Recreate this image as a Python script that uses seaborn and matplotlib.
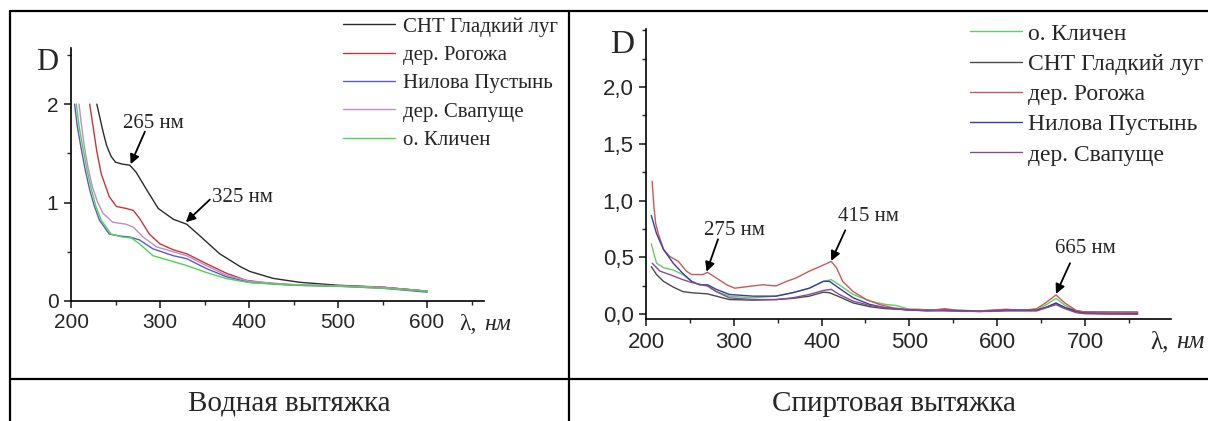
import numpy as np
import pandas as pd
import matplotlib
matplotlib.use('Agg')
import matplotlib.pyplot as plt
import seaborn as sns
from matplotlib.lines import Line2D
from matplotlib.ticker import MultipleLocator, FuncFormatter

# ---- Водная вытяжка (water extract) ----
w_names = ['СНТ Гладкий луг', 'дер. Рогожа', 'Нилова Пустынь', 'дер. Свапуще', 'о. Кличен']
w_colors = ['#2b2b2b', '#c0393b', '#5a5ad0', '#c08cc8', '#4fd24f']

w_black_x = [229, 232, 236, 240, 245, 250, 258, 266, 273, 285, 298, 315, 330, 345, 367, 390, 401, 427, 457, 500, 550, 600]
w_black_y = [2.00, 1.88, 1.72, 1.58, 1.47, 1.41, 1.39, 1.38, 1.31, 1.13, 0.94, 0.83, 0.78, 0.66, 0.48, 0.35, 0.30, 0.23, 0.19, 0.16, 0.14, 0.10]
w_red_x = [221, 224, 229, 234, 243, 251, 262, 270, 277, 288, 300, 315, 330, 352, 375, 397, 427, 465, 500, 550, 600]
w_red_y = [2.00, 1.82, 1.52, 1.29, 1.06, 0.96, 0.94, 0.92, 0.84, 0.68, 0.58, 0.52, 0.48, 0.38, 0.28, 0.21, 0.176, 0.16, 0.155, 0.14, 0.10]
w_blue_x = [204, 207, 211, 216, 221, 226, 232, 243, 255, 266, 277, 292, 315, 330, 352, 375, 401, 450, 500, 550, 600]
w_blue_y = [2.00, 1.78, 1.57, 1.33, 1.13, 0.97, 0.82, 0.68, 0.66, 0.65, 0.62, 0.53, 0.46, 0.43, 0.33, 0.245, 0.19, 0.16, 0.15, 0.13, 0.09]
w_purple_x = [209, 212, 215, 219, 224, 230, 236, 247, 262, 270, 281, 296, 315, 330, 352, 375, 401, 450, 500, 550, 600]
w_purple_y = [2.00, 1.77, 1.57, 1.36, 1.16, 1.00, 0.89, 0.80, 0.78, 0.75, 0.65, 0.55, 0.50, 0.46, 0.36, 0.26, 0.20, 0.165, 0.155, 0.14, 0.10]
w_green_x = [206, 209, 213, 218, 223, 228, 234, 245, 258, 268, 277, 292, 315, 330, 352, 375, 401, 450, 500, 550, 600]
w_green_y = [2.00, 1.78, 1.57, 1.33, 1.13, 0.96, 0.82, 0.68, 0.65, 0.64, 0.58, 0.46, 0.40, 0.36, 0.29, 0.227, 0.186, 0.16, 0.15, 0.13, 0.10]

# ---- Спиртовая вытяжка (alcohol extract) ----
s_names = ['о. Кличен', 'СНТ Гладкий луг', 'дер. Рогожа', 'Нилова Пустынь', 'дер. Свапуще']
s_colors = ['#66cc66', '#4a4a4a', '#c55a5a', '#3c3c9c', '#8a4a9a']

s_green_x = [206, 212, 220, 231, 242, 252, 261, 270, 280, 295, 322, 348, 367, 386, 402, 411, 420, 436, 455, 473, 485, 500, 520, 540, 580, 610, 645, 655, 667, 677, 690, 700, 730, 760]
s_green_y = [0.62, 0.45, 0.41, 0.39, 0.35, 0.29, 0.26, 0.25, 0.20, 0.16, 0.145, 0.16, 0.19, 0.23, 0.29, 0.305, 0.26, 0.175, 0.116, 0.087, 0.078, 0.044, 0.04, 0.04, 0.03, 0.04, 0.04, 0.08, 0.14, 0.08, 0.03, 0.02, 0.015, 0.015]
s_gray_x = [206, 212, 220, 231, 242, 252, 270, 280, 295, 322, 348, 367, 386, 402, 409, 420, 436, 455, 473, 500, 540, 580, 610, 645, 655, 667, 677, 690, 700, 760]
s_gray_y = [0.42, 0.35, 0.29, 0.24, 0.20, 0.19, 0.18, 0.16, 0.13, 0.125, 0.13, 0.14, 0.16, 0.195, 0.19, 0.155, 0.10, 0.067, 0.05, 0.04, 0.035, 0.03, 0.035, 0.035, 0.06, 0.095, 0.06, 0.03, 0.02, 0.02]
s_red_x = [207, 209, 211, 214, 220, 227, 237, 246, 252, 265, 270, 280, 292, 301, 322, 333, 348, 360, 371, 386, 398, 411, 417, 424, 436, 451, 466, 481, 496, 511, 525, 540, 555, 580, 610, 630, 645, 655, 667, 677, 690, 700, 730, 760]
s_red_y = [1.17, 0.95, 0.80, 0.71, 0.57, 0.51, 0.465, 0.38, 0.35, 0.35, 0.37, 0.32, 0.26, 0.23, 0.25, 0.26, 0.25, 0.29, 0.32, 0.38, 0.42, 0.465, 0.41, 0.29, 0.20, 0.13, 0.087, 0.058, 0.044, 0.044, 0.035, 0.05, 0.035, 0.03, 0.045, 0.035, 0.05, 0.10, 0.17, 0.10, 0.035, 0.02, 0.015, 0.015]
s_blue_x = [206, 212, 220, 231, 242, 252, 261, 270, 280, 295, 322, 348, 367, 386, 402, 409, 420, 436, 455, 473, 496, 520, 540, 580, 610, 645, 655, 667, 677, 690, 700, 730, 760]
s_blue_y = [0.87, 0.71, 0.57, 0.45, 0.36, 0.29, 0.26, 0.26, 0.22, 0.175, 0.16, 0.16, 0.19, 0.23, 0.29, 0.29, 0.23, 0.145, 0.087, 0.058, 0.04, 0.03, 0.035, 0.025, 0.035, 0.035, 0.06, 0.10, 0.06, 0.02, 0.01, 0.005, 0.005]
s_purple_x = [207, 216, 227, 242, 252, 270, 280, 295, 322, 348, 367, 386, 402, 411, 420, 436, 455, 473, 500, 540, 580, 610, 645, 655, 667, 677, 690, 700, 760]
s_purple_y = [0.45, 0.38, 0.35, 0.305, 0.28, 0.25, 0.20, 0.145, 0.13, 0.13, 0.145, 0.175, 0.21, 0.22, 0.175, 0.116, 0.078, 0.058, 0.038, 0.03, 0.025, 0.03, 0.03, 0.055, 0.085, 0.05, 0.015, 0.005, 0.0]


def long_df(names, xs, ys):
    parts = []
    for n, x, y in zip(names, xs, ys):
        parts.append(pd.DataFrame({'nm': x, 'D': y, 'sample': n}))
    return pd.concat(parts, ignore_index=True)


df_w = long_df(w_names,
               [w_black_x, w_red_x, w_blue_x, w_purple_x, w_green_x],
               [w_black_y, w_red_y, w_blue_y, w_purple_y, w_green_y])
df_s = long_df(s_names,
               [s_green_x, s_gray_x, s_red_x, s_blue_x, s_purple_x],
               [s_green_y, s_gray_y, s_red_y, s_blue_y, s_purple_y])

sns.set_style('ticks')
plt.rcParams['font.family'] = ['Liberation Sans', 'DejaVu Sans']
SERIF = ['Liberation Serif', 'DejaVu Serif']

W, H = 1208, 421
fig = plt.figure(figsize=(W / 100, H / 100), dpi=100)


def fx(px):
    return px / W


def fy(py):
    return 1 - py / H


ax1 = fig.add_axes([fx(71), fy(301), fx(484) - fx(71), fy(48) - fy(301)])
ax2 = fig.add_axes([fx(646), fy(319), fx(1171) - fx(646), fy(29) - fy(319)])

sns.lineplot(data=df_w, x='nm', y='D', hue='sample', hue_order=w_names,
             palette=w_colors, estimator=None, sort=False, linewidth=1.0,
             legend=False, ax=ax1)
sns.lineplot(data=df_s, x='nm', y='D', hue='sample', hue_order=s_names,
             palette=s_colors, estimator=None, sort=False, linewidth=1.0,
             legend=False, ax=ax2)

ax1.set_xlim(200, 664)
ax1.set_ylim(0, 2.57)
ax2.set_xlim(200, 798)
ax2.set_ylim(-0.041, 2.51)

for ax in (ax1, ax2):
    ax.set_xlabel('')
    ax.set_ylabel('')
    sns.despine(ax=ax)
    for sp in ('left', 'bottom'):
        ax.spines[sp].set_linewidth(1.2)
        ax.spines[sp].set_color('black')
    ax.xaxis.set_major_locator(MultipleLocator(100))
    ax.xaxis.set_minor_locator(MultipleLocator(50))
    ax.tick_params(which='major', direction='out', length=5, width=1.2, labelsize=16, pad=4)
    ax.tick_params(which='minor', direction='out', length=3, width=1.0)
    ax.patch.set_alpha(0)

ax1.set_xticks([200, 300, 400, 500, 600])
ax1.yaxis.set_major_locator(MultipleLocator(1))
ax1.yaxis.set_minor_locator(MultipleLocator(0.5))
ax1.tick_params(which='major', labelsize=15)
ax2.set_xticks([200, 300, 400, 500, 600, 700])
ax2.yaxis.set_major_locator(MultipleLocator(0.5))
ax2.yaxis.set_minor_locator(MultipleLocator(0.25))
ax2.set_yticks([0, 0.5, 1.0, 1.5, 2.0])
ax2.yaxis.set_major_formatter(FuncFormatter(lambda v, p: f'{v:.1f}'.replace('.', ',')))

# legends
h1 = [Line2D([], [], color=c, lw=1.0) for c in w_colors]
ax1.legend(h1, w_names, loc='upper left', bbox_to_anchor=(fx(343), fy(17)),
           bbox_transform=fig.transFigure, frameon=False, borderpad=0, borderaxespad=0,
           handlelength=2.5, handletextpad=0.4, labelspacing=0.42,
           prop={'family': SERIF, 'size': 15})
h2 = [Line2D([], [], color=c, lw=1.0) for c in s_colors]
ax2.legend(h2, s_names, loc='upper left', bbox_to_anchor=(fx(970), fy(23)),
           bbox_transform=fig.transFigure, frameon=False, borderpad=0, borderaxespad=0,
           handlelength=2.2, handletextpad=0.25, labelspacing=0.37,
           prop={'family': SERIF, 'size': 17})

# axis letters
fig.text(fx(47), fy(63), 'D', family=SERIF, fontsize=22, ha='center', va='center')
fig.text(fx(622), fy(45), 'D', family=SERIF, fontsize=24, ha='center', va='center')
fig.text(fx(459), fy(325), 'λ,', family=SERIF, fontsize=17, ha='left', va='center')
fig.text(fx(484), fy(325), 'нм', family=SERIF, style='italic', fontsize=17, ha='left', va='center')
fig.text(fx(1150), fy(342), 'λ,', family=SERIF, fontsize=18, ha='left', va='center')
fig.text(fx(1176), fy(342), 'нм', family=SERIF, style='italic', fontsize=18, ha='left', va='center')

# peak annotations
arrow = dict(arrowstyle='-|>', color='black', lw=1.3, mutation_scale=14, shrinkA=0, shrinkB=0)
notes_w = [('265 нм', (292, 1.80), (283, 1.72), (267, 1.39)),
           ('325 нм', (393, 1.05), (356, 1.03), (329, 0.80))]
notes_s = [('275 нм', (301, 0.74), (282, 0.66), (269, 0.375)),
           ('415 нм', (453, 0.86), (427, 0.74), (411, 0.47)),
           ('665 нм', (701, 0.58), (683, 0.45), (667, 0.18))]
for ax, notes in ((ax1, notes_w), (ax2, notes_s)):
    for label, tpos, start, tip in notes:
        ax.text(*tpos, label, family=SERIF, fontsize=15, ha='center', va='center')
        ax.annotate('', xy=tip, xytext=start, arrowprops=arrow)

# table frame
lw = 1.6
fig.add_artist(Line2D([fx(10), 1], [fy(11), fy(11)], color='black', lw=lw))
fig.add_artist(Line2D([fx(10), fx(10)], [0, fy(11)], color='black', lw=lw))
fig.add_artist(Line2D([fx(569), fx(569)], [0, fy(11)], color='black', lw=lw))
fig.add_artist(Line2D([fx(10), 1], [fy(379), fy(379)], color='black', lw=lw))

fig.text(fx(289), fy(404), 'Водная вытяжка', family=SERIF, fontsize=21, ha='center', va='center')
fig.text(fx(894), fy(404), 'Спиртовая вытяжка', family=SERIF, fontsize=21, ha='center', va='center')

fig.savefig('out.png', dpi=100)
